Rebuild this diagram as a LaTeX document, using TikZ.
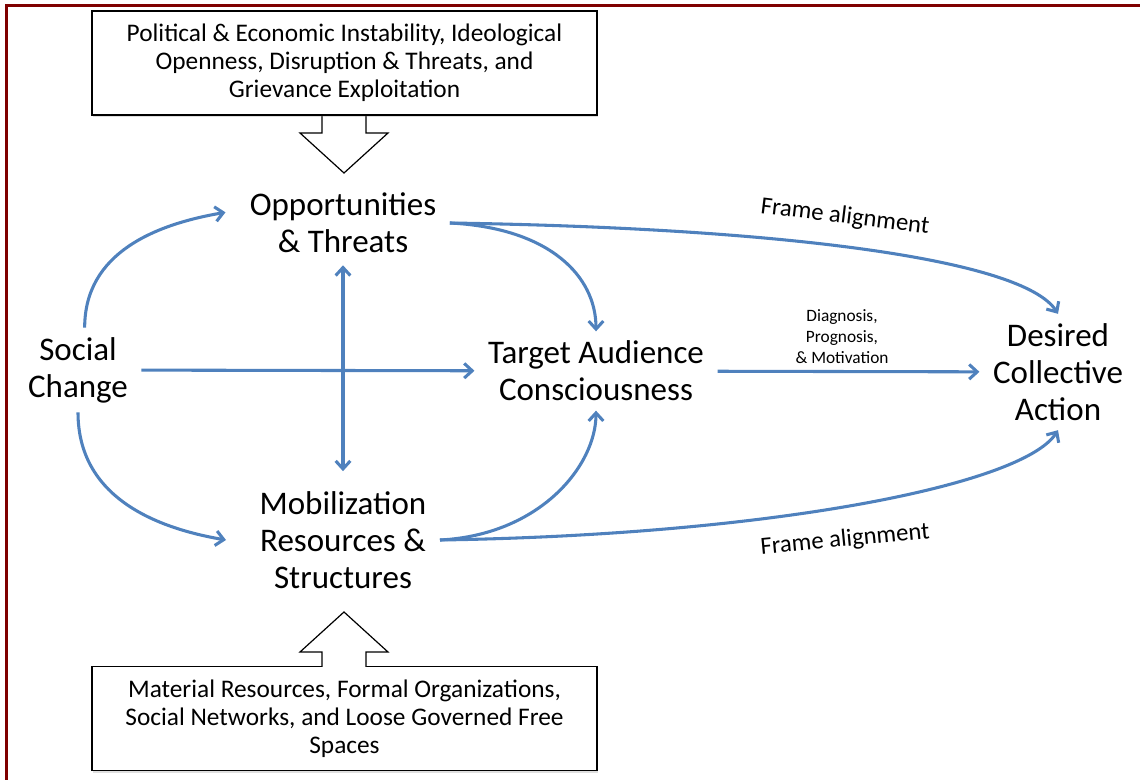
\documentclass[tikz,border=0pt]{standalone}
\usepackage{fontspec}
\setmainfont{Carlito}
\usetikzlibrary{arrows.meta,shadows}
\definecolor{flowblue}{HTML}{4F81BD}
\definecolor{framered}{HTML}{7F0000}
\newcommand{\bigfont}{\fontsize{24.75}{27.75}\selectfont}
\newcommand{\boxfont}{\fontsize{19}{21}\selectfont}
\newcommand{\smallfont}{\fontsize{13}{15.75}\selectfont}
\newcommand{\lblfont}{\fontsize{18.5}{20}\selectfont}

\begin{document}
\begin{tikzpicture}[x=0.75pt,y=-0.75pt,
    concept/.style={align=center,font=\bigfont,inner xsep=10pt,inner ysep=7pt},
    infobox/.style={draw=black,line width=0.9pt,fill=white,align=center,font=\boxfont,
      minimum width=378.75pt,minimum height=78pt,
      drop shadow={shadow xshift=1pt,shadow yshift=-1.5pt,opacity=0.25}},
    flow/.style={draw=flowblue,line width=2.3pt,-{Straight Barb[length=6pt,width=11pt]}},
    lbl/.style={font=\lblfont}]
    \useasboundingbox (0,0) rectangle (1140,780);
    \draw[framered,line width=2.25pt] (6.5,780) -- (6.5,5.5) -- (1140,5.5);

    % top box and its arrow
    \draw[line width=0.9pt,fill=white] (322,110) -- (322,133) -- (300,133) -- (344,173)
      -- (388,133) -- (366,133) -- (366,110);
    \node[infobox] (push) at (344.5,63) {Political \& Economic Instability, Ideological\\
      Openness, Disruption \& Threats, and\\ Grievance Exploitation};

    % bottom box and its arrow
    \node[infobox] (pull) at (344.5,718.5) {Material Resources, Formal Organizations,\\
      Social Networks, and Loose Governed Free\\ Spaces};
    \fill[white] (322,669) -- (322,652) -- (300,652) -- (344,612) -- (388,652)
      -- (366,652) -- (366,669) -- cycle;
    \draw[line width=0.9pt] (322,667) -- (322,652) -- (300,652) -- (344,612)
      -- (388,652) -- (366,652) -- (366,667);

    \node[concept] (soc) at (78,370) {Social\\Change};
    \node[concept] (opp) at (343,223) {Opportunities\\\& Threats};
    \node[concept] (mob) at (343,540) {Mobilization\\Resources \&\\Structures};
    \node[concept] (tac) at (596,371) {Target Audience\\Consciousness};
    \node[concept] (dca) at (1058,372) {Desired\\Collective\\Action};

    \draw[flow] ([xshift=5pt]soc.north) .. controls +(0,-75) and +(-70,12) .. ([shift={(-8pt,8pt)}]opp.west);
    \draw[flow] (soc.south) .. controls +(0,85) and +(-70,-12) .. ([xshift=-15pt]mob.west);
    \draw[flow] (soc) -- (tac);
    \draw[flow,{Straight Barb[length=6pt,width=11pt]}-{Straight Barb[length=6pt,width=11pt]},
      shorten <=2pt,shorten >=8pt] (opp) -- (mob);
    \draw[flow] (opp.east) .. controls +(100,5) and +(0,-55) .. (tac.north);
    \draw[flow] (mob.east) .. controls +(100,-5) and +(0,55) .. (tac.south);
    \draw[flow] (opp.east) .. controls +(330,5) and +(-35,-55) .. (dca.north);
    \draw[flow] (mob.east) .. controls +(330,-5) and +(-35,55) .. (dca.south);
    \draw[flow] (tac) -- (dca);

    \node[lbl,rotate=-7] (fa1) at (845,217) {Frame alignment};
    \node[lbl,rotate=5.5] (fa2) at (845,540) {Frame alignment};
    \node[font=\smallfont,align=center] (dpm) at (842,337) {Diagnosis,\\Prognosis,\\\& Motivation};
\end{tikzpicture}
\end{document}
